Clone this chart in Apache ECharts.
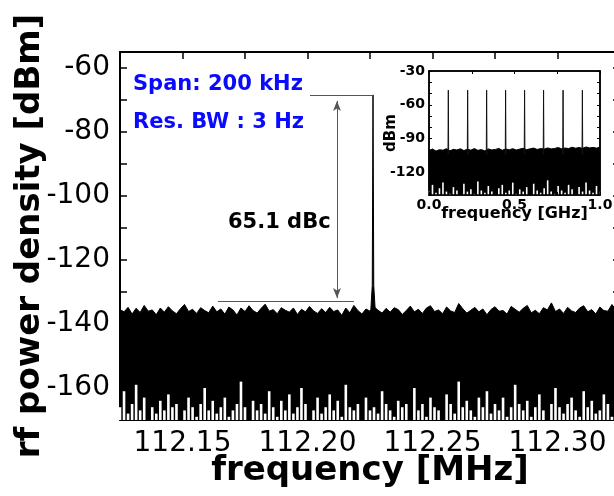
<!DOCTYPE html>
<html>
<head>
<meta charset="utf-8">
<script src="https://cdn.jsdelivr.net/npm/echarts@6/dist/echarts.min.js"></script>
<style>
html, body { margin: 0; padding: 0; background: #fff; }
#chart { width: 614px; height: 496px; }
</style>
</head>
<body>
<div id="chart"></div>
<script>
// main trace: 200 kHz span around the 112.2 MHz line
var mainStart = 112.125;
var mainEnd = 112.325;
var carrierFreq = 112.2262;
var carrierLevel = -68.4;
var floorLevel = -132.8;

// upper edge of the noise floor (dBm), left to right
var noiseTop = [
  -135.5,-136.2,-134.8,-136.9,-135.1,-136.4,-134.2,-136.0,-135.6,-137.1,-135.0,-136.3,-134.6,-135.9,-136.8,-135.2,-133.9,-136.1,-135.4,-136.7,-134.9,-135.8,-136.5,-134.4,-136.2,
  -135.3,-136.9,-134.7,-135.6,-137.2,-135.0,-136.1,-134.3,-135.8,-136.6,-135.1,-133.8,-136.0,-135.5,-136.8,-134.9,-135.7,-136.3,-135.0,-137.0,-135.4,-136.2,-134.5,-135.9,-136.7,
  -135.2,-136.4,-134.8,-136.1,-135.6,-137.3,-135.0,-136.5,-134.2,-135.8,-136.9,-135.3,-136.0,-134.6,-135.7,-136.6,-135.1,-136.3,-134.9,-135.5,-137.0,-135.8,-134.4,-136.2,-135.4,
  -136.7,-135.0,-134.3,-136.1,-135.6,-136.8,-134.7,-135.9,-136.4,-133.6,-135.2,-136.6,-135.7,-134.8,-136.2,-135.3,-137.1,-135.5,-134.6,-136.0,-135.8,-136.9,-134.5,-135.4,-136.3,
  -135.1,-134.2,-136.5,-135.7,-136.8,-134.9,-135.6,-133.4,-136.1,-135.3,-136.7,-134.8,-135.9,-136.4,-135.0,-134.3,-136.2,-135.5,-136.9,-134.7,-135.8,-136.0,-133.9,-135.6,-136.3
];
// lowest excursions of the noise (white gaps at the bottom)
var noiseGaps = [
  -166,-161,-168,-165,-159,-167,-163,-170,-166,-168,-164,-167,-162,-166,-165,-170,-167,-163,-166,-169,-165,-160,-167,-164,-168,
  -166,-163,-169,-167,-165,-158,-166,-170,-164,-167,-165,-168,-161,-166,-169,-164,-167,-162,-168,-166,-160,-165,-170,-167,-163,
  -168,-166,-162,-167,-164,-169,-159,-166,-167,-165,-170,-163,-167,-166,-168,-161,-165,-167,-169,-164,-166,-165,-170,-160,-167,
  -165,-169,-163,-166,-167,-170,-162,-165,-168,-158,-166,-164,-167,-169,-163,-166,-161,-168,-165,-167,-163,-169,-166,-159,-165,
  -167,-164,-169,-166,-162,-167,-170,-165,-160,-166,-168,-165,-163,-167,-169,-161,-166,-164,-168,-167,-162,-165,-169,-164,-166
];

// inset: 0 - 1 GHz overview
var combFreq = [0.113, 0.226, 0.337, 0.448, 0.559, 0.670, 0.784, 0.897];
var combLevel = [-47, -47, -47, -47, -47, -47, -47, -47];
var insetTop = [
  -100.5,-99.2,-101.0,-99.8,-100.3,-98.9,-100.8,-99.5,-100.1,-99.0,-100.6,-99.4,-100.2,-98.8,-100.4,-99.7,-100.9,-99.1,-100.0,-99.6,-98.7,-100.3,-99.2,-99.9,-98.9,
  -100.1,-99.3,-98.6,-99.8,-99.0,-98.4,-99.6,-98.8,-99.3,-98.2,-99.1,-98.7,-97.9,-99.0,-98.3,-98.8,-97.6,-98.5,-97.9,-98.6,-97.4,-98.2,-97.8,-98.4,-97.7
];
var insetGaps = [
  -136,-131,-138,-134,-129,-137,-139,-133,-136,-140,-130,-137,-135,-139,-128,-136,-138,-132,-137,-140,-134,-131,-138,-136,-129,
  -139,-135,-137,-133,-140,-130,-136,-138,-134,-127,-137,-139,-132,-136,-138,-131,-135,-140,-133,-137,-129,-136,-138,-132,-137
];

var FONT = 'DejaVu Sans';

function spread(vals, a, b) {
  return vals.map(function (v, i) {
    return [a + (b - a) * i / (vals.length - 1), v];
  });
}

function gapBars(base, w) {
  return function (params, api) {
    var top = api.coord([api.value(0), api.value(1)]);
    var bot = api.coord([api.value(0), base]);
    return {
      type: 'rect',
      shape: { x: top[0] - w / 2, y: top[1], width: w, height: bot[1] - top[1] },
      style: { fill: '#fff' }
    };
  };
}

var carrierData = [
  [carrierFreq - 0.0009, -136],
  [carrierFreq - 0.0003, -128],
  [carrierFreq, carrierLevel],
  [carrierFreq + 0.0003, -128],
  [carrierFreq + 0.0009, -136]
];

// one thin spike per comb line, broken apart with nulls
var combData = [];
combFreq.forEach(function (f, i) {
  combData.push([f - 0.002, -104]);
  combData.push([f, combLevel[i]]);
  combData.push([f + 0.002, -104]);
  combData.push([f + 0.003, null]);
});

var arrowX = 112.2118;
var lineStyleGrey = { color: '#555', width: 1, type: 'solid' };

var chart = echarts.init(document.getElementById('chart'));

chart.setOption({
  animation: false,
  backgroundColor: '#fff',
  grid: [
    { left: 120, top: 52, width: 500, height: 368, outerBoundsMode: 'none' },
    { left: 429, top: 71, width: 171, height: 124, show: true, borderColor: '#000', borderWidth: 1.5,
      backgroundColor: '#fff', outerBoundsMode: 'none', z: 4 }
  ],
  xAxis: [
    {
      gridIndex: 0, type: 'value', min: mainStart, max: mainEnd, interval: 0.025, position: 'bottom',
      axisLine: { onZero: false, lineStyle: { color: '#000', width: 2 } },
      axisTick: { inside: true, length: 7, lineStyle: { color: '#000', width: 1.5 } },
      splitLine: { show: false },
      axisLabel: {
        fontSize: 28, fontFamily: FONT, color: '#000', margin: 10, hideOverlap: false,
        formatter: function (v) {
          var k = Math.round(v * 20);
          return Math.abs(v * 20 - k) < 1e-6 ? v.toFixed(2) : '';
        }
      },
      name: 'frequency [MHz]', nameLocation: 'middle', nameGap: 34, nameMoveOverlap: false,
      nameTextStyle: { fontSize: 34, fontWeight: 'bold', fontFamily: FONT, color: '#000' }
    },
    {
      gridIndex: 0, type: 'value', min: mainStart, max: mainEnd, interval: 0.025, position: 'top',
      axisLine: { onZero: false, lineStyle: { color: '#000', width: 2 } },
      axisTick: { inside: true, length: 7, lineStyle: { color: '#000', width: 1.5 } },
      splitLine: { show: false }, axisLabel: { show: false }
    },
    {
      gridIndex: 1, type: 'value', min: 0, max: 1, interval: 0.25, position: 'bottom', z: 6,
      axisLine: { onZero: false, lineStyle: { color: '#000', width: 1.5 } },
      axisTick: { inside: true, length: 3, lineStyle: { color: '#000' } },
      splitLine: { show: false },
      axisLabel: {
        fontSize: 14, fontWeight: 'bold', fontFamily: FONT, color: '#000', margin: 3, hideOverlap: false,
        formatter: function (v) {
          var k = Math.round(v * 2);
          return Math.abs(v * 2 - k) < 1e-6 ? v.toFixed(1) : '';
        }
      },
      name: 'frequency [GHz]', nameLocation: 'middle', nameGap: 11, nameMoveOverlap: false,
      nameTextStyle: { fontSize: 16, fontWeight: 'bold', fontFamily: FONT, color: '#000' }
    },
    {
      gridIndex: 1, type: 'value', min: 0, max: 1, interval: 0.25, position: 'top', z: 6,
      axisLine: { onZero: false, lineStyle: { color: '#000', width: 1.5 } },
      axisTick: { inside: true, length: 3, lineStyle: { color: '#000' } },
      splitLine: { show: false }, axisLabel: { show: false }
    }
  ],
  yAxis: [
    {
      gridIndex: 0, type: 'value', min: -170, max: -55, interval: 10, position: 'left',
      axisLine: { onZero: false, lineStyle: { color: '#000', width: 2 } },
      axisTick: { inside: true, length: 7, lineStyle: { color: '#000', width: 1.5 } },
      splitLine: { show: false },
      axisLabel: {
        fontSize: 28, fontFamily: FONT, color: '#000', margin: 10,
        formatter: function (v) { return Math.round(v) % 20 === 0 ? String(Math.round(v)) : ''; }
      },
      name: 'rf power density [dBm]', nameLocation: 'middle', nameGap: 73, nameRotate: 90, nameMoveOverlap: false,
      nameTextStyle: { fontSize: 34, fontWeight: 'bold', fontFamily: FONT, color: '#000' }
    },
    {
      gridIndex: 0, type: 'value', min: -170, max: -55, interval: 10, position: 'right',
      axisLine: { onZero: false, lineStyle: { color: '#000', width: 2 } },
      axisTick: { inside: true, length: 7, lineStyle: { color: '#000', width: 1.5 } },
      splitLine: { show: false }, axisLabel: { show: false }
    },
    {
      gridIndex: 1, type: 'value', min: -140, max: -30, interval: 10, position: 'left', z: 6,
      axisLine: { onZero: false, lineStyle: { color: '#000', width: 1.5 } },
      axisTick: { inside: true, length: 3, lineStyle: { color: '#000' } },
      splitLine: { show: false },
      axisLabel: {
        fontSize: 14, fontWeight: 'bold', fontFamily: FONT, color: '#000', margin: 4,
        formatter: function (v) { return Math.round(v) % 30 === 0 ? String(Math.round(v)) : ''; }
      },
      name: 'dBm', nameLocation: 'middle', nameGap: 30, nameRotate: 90, nameMoveOverlap: false,
      nameTextStyle: { fontSize: 15, fontWeight: 'bold', fontFamily: FONT, color: '#000' }
    },
    {
      gridIndex: 1, type: 'value', min: -140, max: -30, interval: 10, position: 'right', z: 6,
      axisLine: { onZero: false, lineStyle: { color: '#000', width: 1.5 } },
      axisTick: { inside: true, length: 3, lineStyle: { color: '#000' } },
      splitLine: { show: false }, axisLabel: { show: false }
    }
  ],
  series: [
    {
      name: 'noise', type: 'line', xAxisIndex: 0, yAxisIndex: 0, symbol: 'none',
      data: spread(noiseTop, mainStart, mainEnd),
      lineStyle: { color: '#000', width: 1 },
      areaStyle: { color: '#000', opacity: 1, origin: 'start' }
    },
    {
      name: 'carrier', type: 'line', xAxisIndex: 0, yAxisIndex: 0, symbol: 'none',
      data: carrierData,
      lineStyle: { color: '#000', width: 1 },
      areaStyle: { color: '#000', opacity: 1, origin: 'start' },
      markLine: {
        silent: true, animation: false, label: { show: false },
        lineStyle: lineStyleGrey,
        data: [
          [{ coord: [112.201, carrierLevel], symbol: 'none' }, { coord: [carrierFreq, carrierLevel], symbol: 'none' }],
          [{ coord: [112.1642, floorLevel], symbol: 'none' }, { coord: [112.2186, floorLevel], symbol: 'none' }],
          [{ coord: [arrowX, -131.9], symbol: 'arrow', symbolSize: [6, 10] },
           { coord: [arrowX, -70.3], symbol: 'arrow', symbolSize: [6, 10] }]
        ]
      }
    },
    {
      name: 'noise gaps', type: 'custom', xAxisIndex: 0, yAxisIndex: 0,
      renderItem: gapBars(-170, 2.6),
      data: spread(noiseGaps, mainStart, mainEnd), z: 3
    },
    {
      name: 'inset noise', type: 'line', xAxisIndex: 2, yAxisIndex: 2, symbol: 'none', z: 5,
      data: spread(insetTop, 0, 1),
      lineStyle: { color: '#000', width: 1 },
      areaStyle: { color: '#000', opacity: 1, origin: 'start' }
    },
    {
      name: 'inset gaps', type: 'custom', xAxisIndex: 2, yAxisIndex: 2, z: 5,
      renderItem: gapBars(-140, 1.6),
      data: spread(insetGaps, 0, 1)
    },
    {
      name: 'comb', type: 'line', xAxisIndex: 2, yAxisIndex: 2, symbol: 'none', z: 5,
      data: combData, connectNulls: false,
      lineStyle: { color: '#111', width: 1 }
    }
  ],
  graphic: [
    { type: 'text', x: 133, y: 85, style: { text: 'Span: 200 kHz', font: 'bold 21px "DejaVu Sans"', fill: '#0a0aff', verticalAlign: 'middle' } },
    { type: 'text', x: 133, y: 123, style: { text: 'Res. BW : 3 Hz', font: 'bold 21px "DejaVu Sans"', fill: '#0a0aff', verticalAlign: 'middle' } },
    { type: 'text', x: 228, y: 223, style: { text: '65.1 dBc', font: 'bold 21px "DejaVu Sans"', fill: '#000', verticalAlign: 'middle' } }
  ]
});
</script>
</body>
</html>
